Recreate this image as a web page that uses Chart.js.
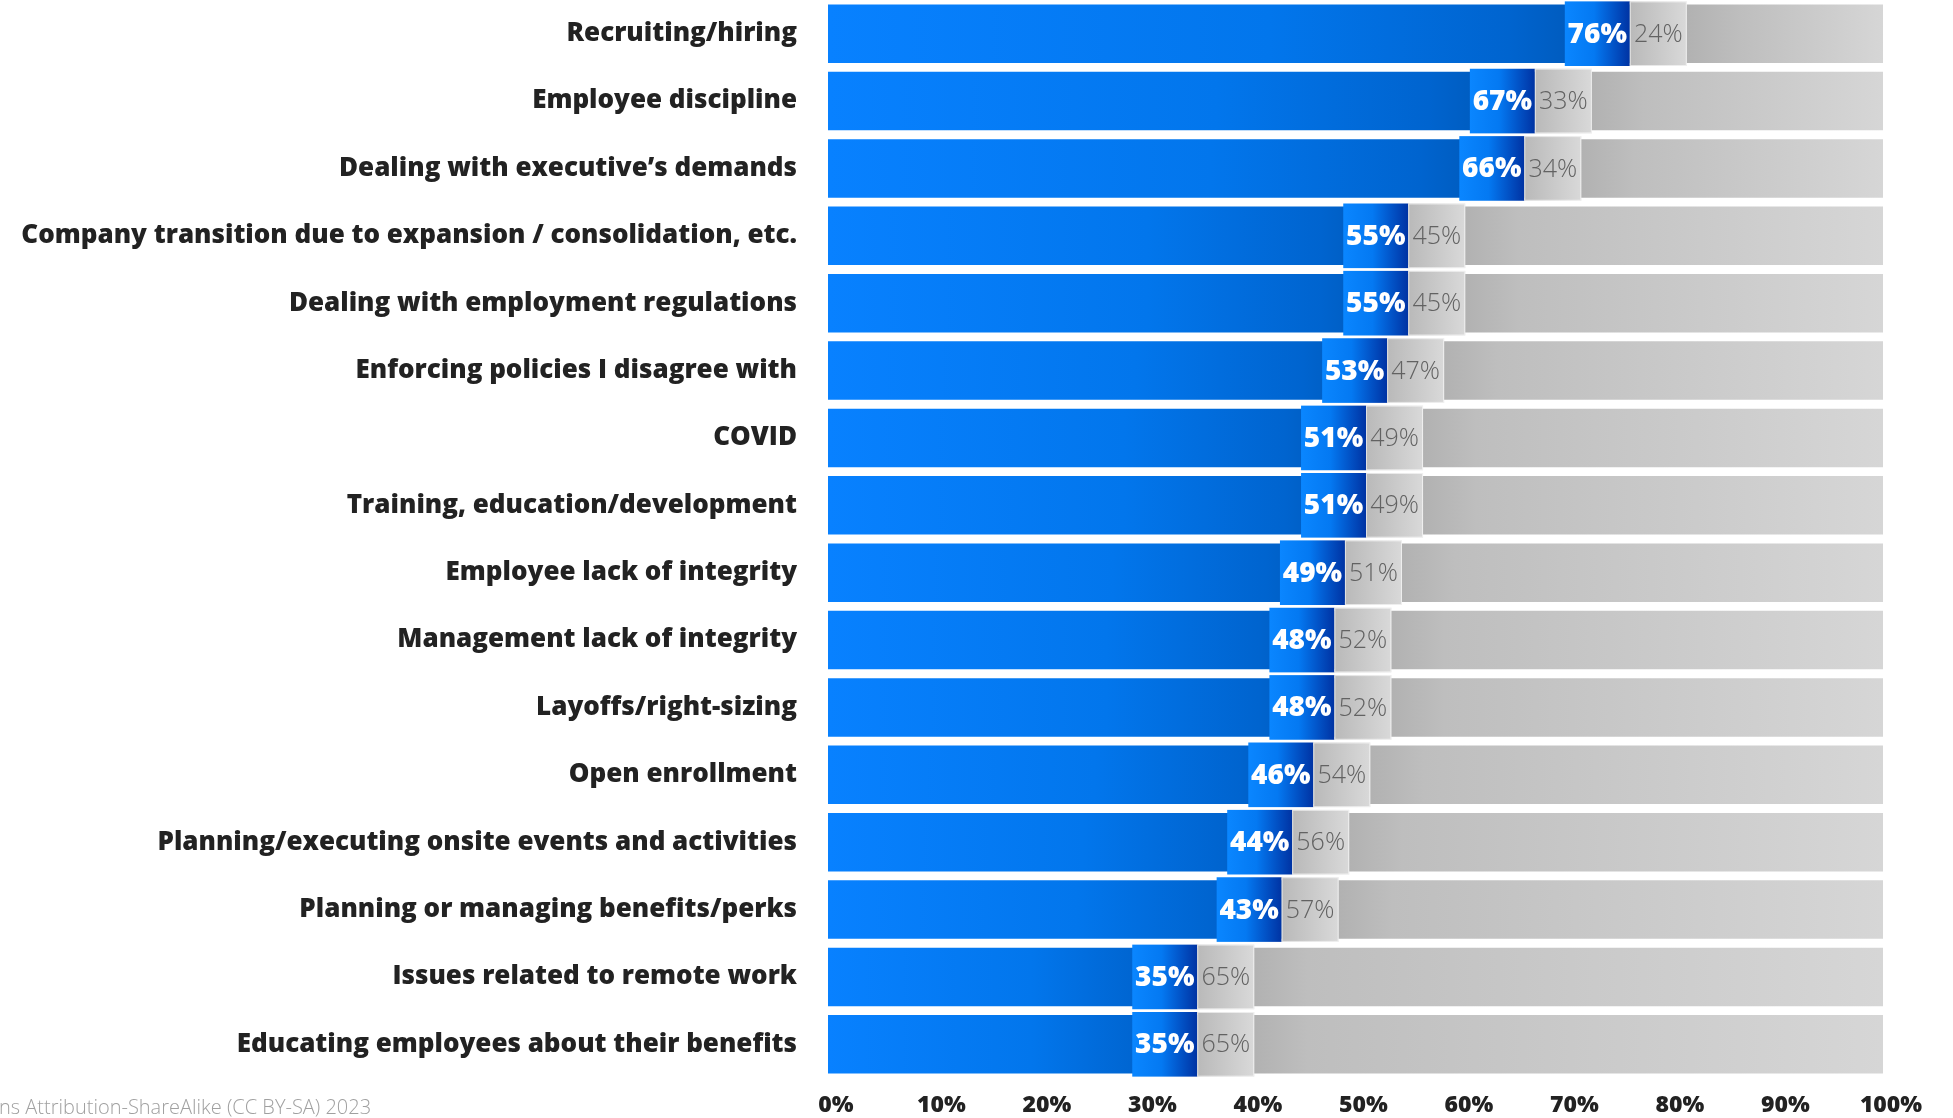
<!DOCTYPE html>
<html>
<head>
<meta charset="utf-8">
<script src="https://cdn.jsdelivr.net/npm/chart.js@4.4.0/dist/chart.umd.min.js"></script>
<style>
  html, body { margin: 0; padding: 0; background: #ffffff; }
  #wrap { width: 1953px; height: 1118px; position: relative; }
</style>
</head>
<body>
<div id="wrap"><canvas id="bar-chart-retos"></canvas></div>
<script>
const categorias = [
  'Recruiting/hiring',
  'Employee discipline',
  'Dealing with executive\u2019s demands',
  'Company transition due to expansion / consolidation, etc.',
  'Dealing with employment regulations',
  'Enforcing policies I disagree with',
  'COVID',
  'Training, education/development',
  'Employee lack of integrity',
  'Management lack of integrity',
  'Layoffs/right-sizing',
  'Open enrollment',
  'Planning/executing onsite events and activities',
  'Planning or managing benefits/perks',
  'Issues related to remote work',
  'Educating employees about their benefits'
];
const valoresSi = [76, 67, 66, 55, 55, 53, 51, 51, 49, 48, 48, 46, 44, 43, 35, 35];
const valoresNo = [24, 33, 34, 45, 45, 47, 49, 49, 51, 52, 52, 54, 56, 57, 65, 65];
const ticksX = [0, 10, 20, 30, 40, 50, 60, 70, 80, 90, 100];
const nota = 'ns Attribution-ShareAlike (CC BY-SA) 2023';

const fuente = '"Open Sans", Lato, sans-serif';

function colorAzul(context) {
  const chart = context.chart;
  const area = chart.chartArea;
  if (!area) return '#0078f0';
  const x1 = chart.scales.x.getPixelForValue(valoresSi[context.dataIndex]);
  const g = chart.ctx.createLinearGradient(area.left, 0, x1, 0);
  g.addColorStop(0, '#0881ff');
  g.addColorStop(0.55, '#0276ec');
  g.addColorStop(0.85, '#0064cf');
  g.addColorStop(1, '#0053ae');
  return g;
}

function colorGris(context) {
  const chart = context.chart;
  const area = chart.chartArea;
  if (!area) return '#c8c8c8';
  const x0 = chart.scales.x.getPixelForValue(valoresSi[context.dataIndex]);
  const g = chart.ctx.createLinearGradient(x0, 0, area.right, 0);
  const sombra = Math.min(110 / (area.right - x0), 0.5);
  g.addColorStop(0, '#a4a4a4');
  g.addColorStop(sombra, '#bebebe');
  g.addColorStop(1, '#d6d6d6');
  return g;
}

// pestañas con los porcentajes al final de cada barra azul
const pluginPestanas = {
  id: 'pestanas',
  afterDatasetsDraw(chart) {
    const ctx = chart.ctx;
    const meta = chart.getDatasetMeta(0);
    meta.data.forEach((bar, i) => {
      const h = bar.height + 6;
      const top = bar.y - h / 2;
      const xFin = bar.x;
      const anchoAzul = 65, anchoGris = 57;

      ctx.save();
      const gA = ctx.createLinearGradient(xFin - anchoAzul, 0, xFin, 0);
      gA.addColorStop(0, '#0a86ff');
      gA.addColorStop(0.45, '#0479f2');
      gA.addColorStop(1, '#0033a3');
      ctx.fillStyle = gA;
      ctx.fillRect(xFin - anchoAzul, top, anchoAzul, h);

      const gG = ctx.createLinearGradient(xFin, 0, xFin + anchoGris, 0);
      gG.addColorStop(0, '#b9b9b9');
      gG.addColorStop(1, '#d9d9d9');
      ctx.fillStyle = gG;
      ctx.fillRect(xFin, top, anchoGris, h);
      ctx.strokeStyle = 'rgba(255,255,255,0.6)';
      ctx.lineWidth = 1;
      ctx.strokeRect(xFin + 0.5, top + 0.5, anchoGris - 1, h - 1);

      ctx.textBaseline = 'middle';
      ctx.textAlign = 'center';
      ctx.fillStyle = '#ffffff';
      ctx.font = '800 28px ' + fuente;
      ctx.fillText(valoresSi[i] + '%', xFin - anchoAzul / 2, bar.y + 1);

      ctx.fillStyle = '#626262';
      ctx.font = '300 25px ' + fuente;
      ctx.fillText(valoresNo[i] + '%', xFin + anchoGris / 2, bar.y + 1);
      ctx.restore();
    });

    ctx.save();
    ctx.fillStyle = '#a0a0a0';
    ctx.font = '300 20px ' + fuente;
    ctx.textAlign = 'left';
    ctx.textBaseline = 'middle';
    ctx.fillText(nota, -1, 1108);
    ctx.restore();
  }
};

new Chart(document.getElementById('bar-chart-retos'), {
  type: 'bar',
  data: {
    labels: categorias,
    datasets: [
      {
        label: 'S\u00ed',
        data: valoresSi,
        backgroundColor: colorAzul,
        borderWidth: 0,
        barPercentage: 0.87,
        categoryPercentage: 1.0
      },
      {
        label: 'No',
        data: valoresNo,
        backgroundColor: colorGris,
        borderWidth: 0,
        barPercentage: 0.87,
        categoryPercentage: 1.0
      }
    ]
  },
  plugins: [pluginPestanas],
  options: {
    indexAxis: 'y',
    responsive: true,
    maintainAspectRatio: false,
    animation: false,
    layout: { autoPadding: false, padding: { left: 0, right: 70, top: 0, bottom: 0 } },
    plugins: {
      legend: { display: false },
      title: { display: false },
      tooltip: { enabled: false }
    },
    scales: {
      x: {
        stacked: true,
        min: 0,
        max: 100,
        afterBuildTicks: (scale) => { scale.ticks = ticksX.map(v => ({ value: v })); },
        afterFit: (scale) => { scale.height = 40; scale.paddingLeft = 0; scale.paddingRight = 0; },
        grid: { display: false, drawTicks: false },
        border: { display: false },
        ticks: {
          padding: 14,
          labelOffset: 8,
          color: '#222222',
          font: { family: fuente, size: 23, weight: '800' },
          callback: (v) => v + '%'
        }
      },
      y: {
        stacked: true,
        afterFit: (scale) => { scale.width = 828; scale.paddingTop = 0; scale.paddingBottom = 0; },
        grid: { display: false, drawTicks: false },
        border: { display: false },
        ticks: {
          padding: 31,
          color: '#222222',
          font: { family: fuente, size: 26, weight: '800' }
        }
      }
    }
  }
});
</script>
</body>
</html>
